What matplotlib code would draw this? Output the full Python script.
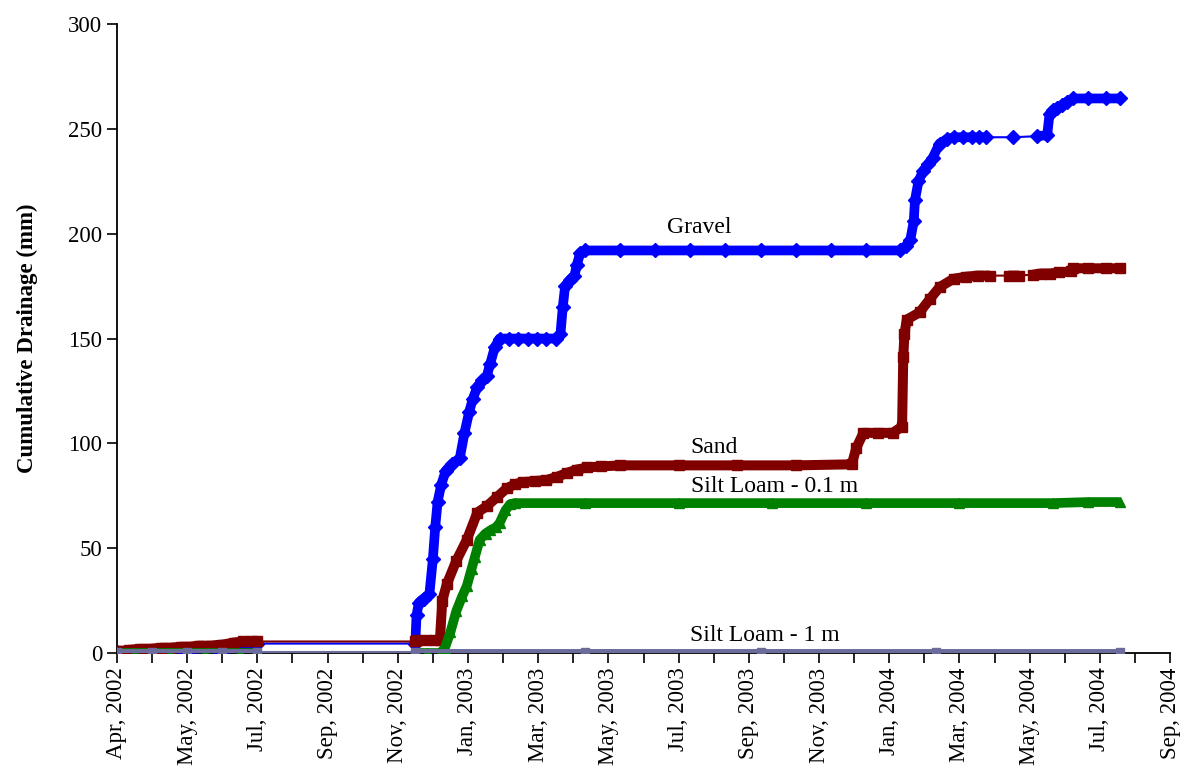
import numpy as np
import matplotlib
matplotlib.use("Agg")
import matplotlib.pyplot as plt
import matplotlib.dates as mdates

plt.rcParams['font.family'] = ['Liberation Serif', 'DejaVu Serif']

# days since 1 Apr 2002, cumulative drainage in mm
start = np.datetime64('2002-04-01')

gravel_days = [0, 8, 16, 25, 35, 45, 55, 65, 75, 85, 95, 105, 113, 120,
               255, 256, 258, 262, 267, 270, 272, 274, 277, 281, 286, 293, 297, 301, 304,
               308, 312, 316, 319, 323, 327, 335, 343, 351, 359, 367, 375, 379, 381, 383,
               387, 391, 393, 396, 400, 430, 460, 490, 520, 550, 580, 610, 640, 669,
               674, 678, 681, 682, 685, 689, 693, 697, 703, 709, 715, 723, 731, 737, 743,
               766, 786, 795, 797, 800, 803, 808, 812, 817, 830, 845, 857]
gravel_vals = [0.5, 0.5, 1, 1, 1.5, 1.5, 2, 2, 2.5, 3, 3.5, 4, 4, 4.5,
               4.5, 18, 24, 26, 28, 45, 60, 72, 80, 87, 90, 93, 105, 115, 121,
               127, 130, 132, 138, 146, 150, 150, 150, 150, 150, 150, 150, 152, 165, 175,
               178, 180, 185, 191, 192, 192, 192, 192, 192, 192, 192, 192, 192, 192,
               194, 197, 206, 216, 225, 230, 233, 236, 243, 245, 246, 246, 246, 246, 246,
               246, 246.5, 247, 257, 259, 260, 261.5, 263, 264.5, 264.5, 264.5, 264.5]
gravel_gaps = [(120, 255), (743, 786)]

sand_days = [0, 5, 10, 20, 28, 38, 45, 55, 62, 70, 80, 90, 100, 108, 115, 120,
             255, 256, 264, 272, 276, 278, 282, 290, 299, 308, 316, 325, 333, 340, 347,
             357, 367, 376, 385, 393, 402, 414, 430, 480, 530, 580, 628, 632, 638, 650,
             663, 671, 672, 673, 675, 686, 695, 703, 715, 726, 736, 746, 762, 771, 783,
             790, 797, 805, 815, 817, 830, 845, 857]
sand_vals = [1, 1, 1.5, 2, 2, 2.5, 2.5, 3, 3, 3.5, 3.5, 4, 5, 5.5, 5.5, 5.5,
             5.5, 6, 6, 6, 6, 25, 33, 44, 54, 67, 70, 74.5, 78.5, 80.5, 81.5,
             82, 82.5, 84, 86, 87.5, 88.5, 89, 89.5, 89.5, 89.5, 89.5, 90, 98, 105, 105,
             105, 108, 141, 152, 159, 162.5, 169, 174.5, 178.5, 179.5, 180, 180, 180, 180, 180.5,
             181, 181, 181.5, 182, 183.5, 183.5, 183.5, 183.5]
sand_gaps = [(120, 255), (746, 762), (771, 783)]

silt01_days = [0, 15, 30, 45, 60, 75, 90, 105, 120, 255, 265, 276, 280, 285, 290, 295,
               299, 303, 306, 310, 315, 319, 324, 327, 332, 336, 340, 400, 480, 560, 640,
               720, 800, 830, 857]
silt01_vals = [0, 0, 0, 0, 0, 0, 0, 0, 0, 0, 0, 0, 2, 10, 20, 27,
               32, 40, 46, 54, 57, 58.5, 60, 62, 68, 71, 71.5, 71.5, 71.5, 71.5, 71.5,
               71.5, 71.5, 72, 72]
silt01_gaps = [(120, 255)]

silt1_days = [0, 30, 60, 90, 120, 255, 400, 550, 700, 857]
silt1_vals = [0.5, 0.5, 0.5, 0.5, 0.5, 0.5, 0.5, 0.5, 0.5, 0.5]
silt1_gaps = [(120, 255)]

labels = ['Gravel', 'Sand', 'Silt Loam - 0.1 m', 'Silt Loam - 1 m']
label_days = [498, 510, 562, 554]
label_vals = [200.5, 95.5, 77, 5.5]


def dense_part(days, vals, gaps):
    # break the thick band where the logger record is sparse
    xs, ys = [], []
    for i in range(len(days)):
        xs.append(days[i])
        ys.append(vals[i])
        if i < len(days) - 1:
            mid = 0.5 * (days[i] + days[i + 1])
            if any(a <= mid <= b for a, b in gaps):
                xs.append(np.nan)
                ys.append(np.nan)
    return np.array(xs), np.array(ys)


def to_dates(days):
    d = np.array(days, dtype=float)
    out = np.full(d.shape, np.datetime64('NaT'), dtype='datetime64[D]')
    ok = ~np.isnan(d)
    out[ok] = start + d[ok].astype(int)
    return out


fig = plt.figure(figsize=(11.84, 7.75), dpi=100)
ax = fig.add_axes([0.0988, 0.1574, 0.8894, 0.8116])

series = [
    (gravel_days, gravel_vals, gravel_gaps, '#0000FF', 'D', 7.5, 7.0),
    (sand_days, sand_vals, sand_gaps, '#800000', 's', 7.0, 7.2),
    (silt01_days, silt01_vals, silt01_gaps, '#008000', '^', 7.0, 7.0),
    (silt1_days, silt1_vals, silt1_gaps, '#6C6C9C', 's', 5.5, 5.0),
]

for days, vals, gaps, col, mk, ms, lw in series:
    ax.plot(to_dates(days), vals, color=col, lw=1.5, marker=mk, ms=ms,
            mec=col, mfc=col, zorder=3)
    dx, dy = dense_part(days, vals, gaps)
    ax.plot(to_dates(dx), dy, color=col, lw=lw, solid_capstyle='butt',
            solid_joinstyle='round', zorder=3)

for lab, d, v in zip(labels, label_days, label_vals):
    ax.text(start + d, v, lab, ha='center', va='baseline', fontsize=17)

ax.set_ylim(0, 300)
ax.set_yticks(np.arange(0, 301, 50))
ax.set_xlim(start, start + 900)
ax.set_xticks([start + 60 * k for k in range(16)])
ax.set_xticks([start + 30 + 60 * k for k in range(15)], minor=True)
ax.xaxis.set_major_formatter(mdates.DateFormatter('%b, %Y'))
plt.setp(ax.get_xticklabels(), rotation=90)

for s in ['top', 'right']:
    ax.spines[s].set_visible(False)
for s in ['left', 'bottom']:
    ax.spines[s].set_linewidth(1.3)
ax.tick_params(axis='both', which='both', direction='out', length=7, width=1.2,
               labelsize=16.5)
ax.set_ylabel('Cumulative Drainage (mm)', fontsize=16.5, fontweight='bold', labelpad=22)

fig.savefig('out.png', dpi=100)
